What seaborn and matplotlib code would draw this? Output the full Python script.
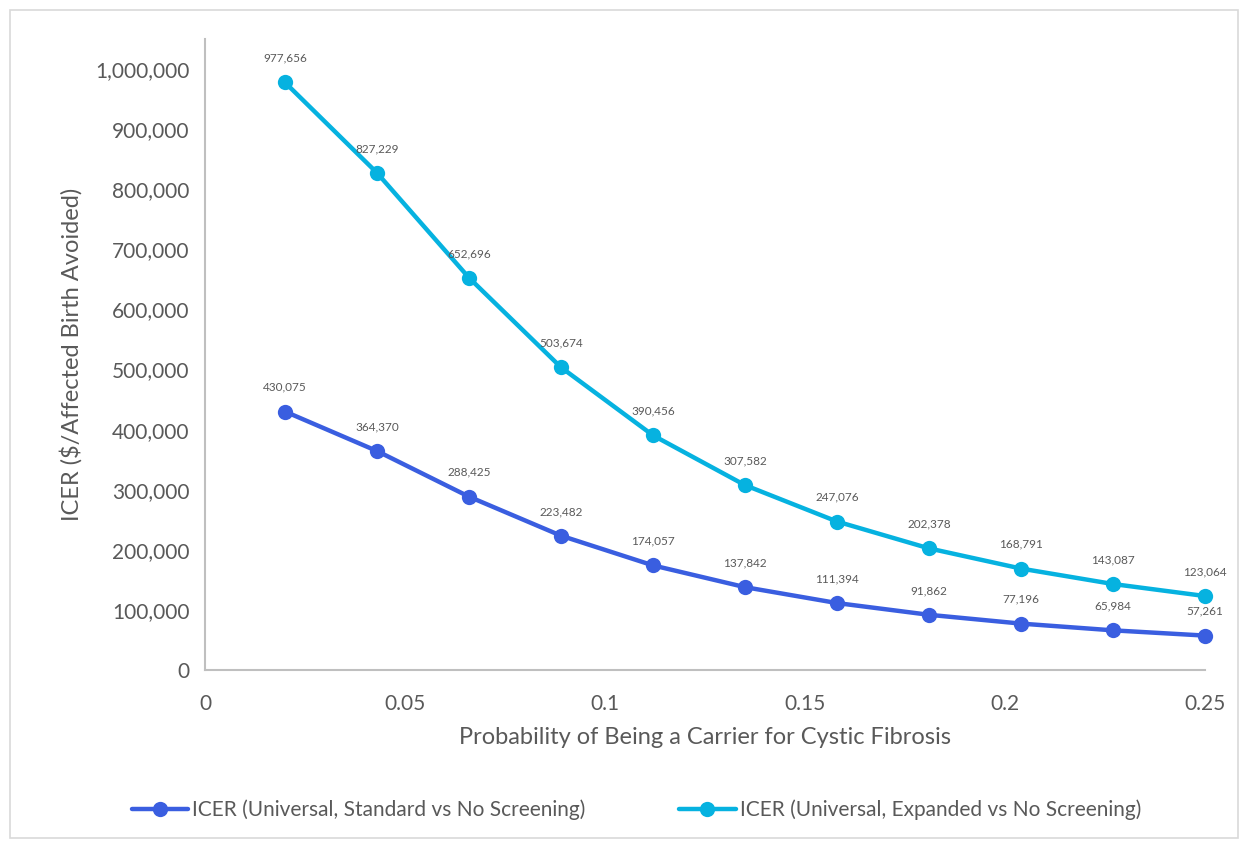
import numpy as np
import pandas as pd
import matplotlib
matplotlib.use("Agg")
import matplotlib.pyplot as plt
import seaborn as sns
from matplotlib.ticker import FuncFormatter, FixedLocator
from matplotlib.patches import Rectangle

prob = [0.02, 0.043, 0.066, 0.089, 0.112, 0.135, 0.158, 0.181, 0.204, 0.227, 0.25]
standard = [430075, 364370, 288425, 223482, 174057, 137842, 111394, 91862, 77196, 65984, 57261]
expanded = [977656, 827229, 652696, 503674, 390456, 307582, 247076, 202378, 168791, 143087, 123064]
series_names = ["ICER (Universal, Standard vs No Screening)",
                "ICER (Universal, Expanded vs No Screening)"]
x_ticks = [0, 0.05, 0.1, 0.15, 0.2, 0.25]
x_tick_labels = ["0", "0.05", "0.1", "0.15", "0.2", "0.25"]
y_ticks = list(range(0, 1000001, 100000))

df = pd.DataFrame({
    "p": prob * 2,
    "icer": standard + expanded,
    "series": [series_names[0]] * len(prob) + [series_names[1]] * len(prob),
})

sns.set_theme(style="white")
plt.rcParams["font.family"] = ["Lato", "DejaVu Sans"]
TXT = "#595959"
palette = {series_names[0]: "#3A5EE0", series_names[1]: "#06B2E0"}

fig = plt.figure(figsize=(12.48, 8.48), dpi=100)
fig.patches.append(Rectangle((10/1248, 10/848), 1228/1248, 828/848, transform=fig.transFigure,
                             fill=False, edgecolor="#D9D9D9", linewidth=1.2))
ax = fig.add_axes([205/1248, 1 - 670/848, 1000/1248, 631/848])

sns.lineplot(data=df, x="p", y="icer", hue="series", palette=palette, ax=ax,
             marker="o", markersize=11, markeredgewidth=0, linewidth=3.2, legend=True)
for ln in ax.lines:
    ln.set_clip_on(False)

for vals, name in [(standard, series_names[0]), (expanded, series_names[1])]:
    for xv, yv in zip(prob, vals):
        ax.annotate(f"{yv:,}", (xv, yv), xytext=(0, 13.5), textcoords="offset points",
                    ha="center", va="bottom", fontsize=8.5, color=TXT)

ax.set_xlim(0, 0.25)
ax.set_ylim(0, 1050000)
ax.xaxis.set_major_locator(FixedLocator(x_ticks))
ax.set_xticklabels(x_tick_labels)
ax.yaxis.set_major_locator(FixedLocator(y_ticks))
ax.yaxis.set_major_formatter(FuncFormatter(lambda v, _: f"{int(v):,}"))

for s in ["top", "right"]:
    ax.spines[s].set_visible(False)
for s in ["left", "bottom"]:
    ax.spines[s].set_color("#BFBFBF")
    ax.spines[s].set_linewidth(1.5)
ax.tick_params(axis="both", which="major", length=6, width=1.5, color="#BFBFBF",
               labelsize=15, labelcolor=TXT, direction="out")
ax.tick_params(axis="x", pad=11)
ax.tick_params(axis="y", pad=5)

ax.set_xlabel("Probability of Being a Carrier for Cystic Fibrosis", fontsize=17, color=TXT, labelpad=10)
ax.set_ylabel("ICER ($/Affected Birth Avoided)", fontsize=17, color=TXT, labelpad=9)

handles, labels = ax.get_legend_handles_labels()
leg = fig.legend(handles, labels, loc="center", bbox_to_anchor=(0.51, 1 - 810/848), ncol=2,
                 frameon=False, fontsize=15, handlelength=2.7, columnspacing=4.5, handletextpad=0.2)
for t in leg.get_texts():
    t.set_color(TXT)
if ax.get_legend():
    ax.get_legend().remove()

fig.savefig("out.png", dpi=100)
